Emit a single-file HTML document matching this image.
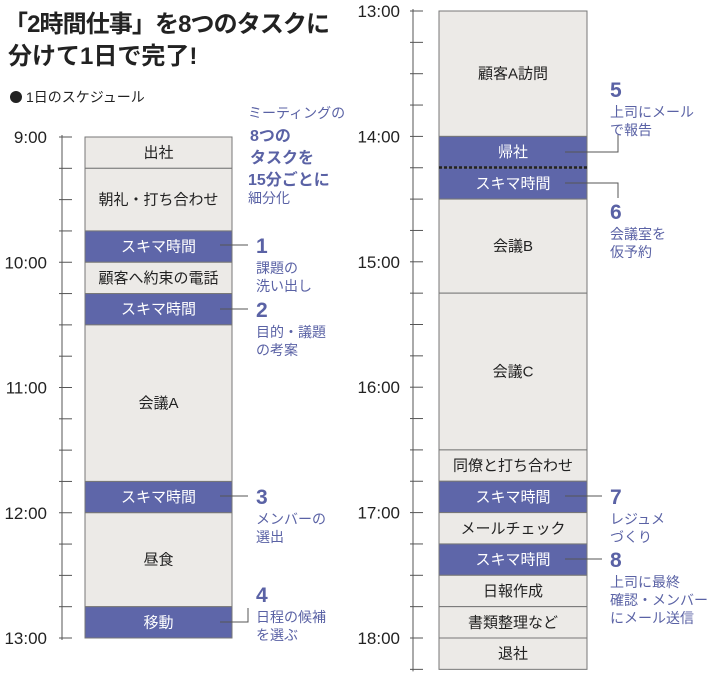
<!DOCTYPE html>
<html><head><meta charset="utf-8">
<style>
body{margin:0;background:#fff;width:710px;height:680px;overflow:hidden;font-family:"Liberation Sans","Noto Sans CJK JP",sans-serif;}
svg{position:absolute;left:0;top:0}
.ann{fill:#5a62a5}
</style></head><body>
<svg id="c" width="710" height="680">
<text x="4" y="32" font-size="24" font-weight="bold" fill="#222" textLength="326">「2時間仕事」を8つのタスクに</text>
<text x="8" y="64" font-size="24" font-weight="bold" fill="#222">分けて1日で完了!</text>
<circle cx="16" cy="97" r="6" fill="#222"/>
<text x="26" y="102" font-size="14" fill="#222">1日のスケジュール</text>
<g class="ann">
<text x="248" y="118" font-size="14">ミーティングの</text>
<text x="250" y="141" font-size="16" font-weight="bold">8つの</text>
<text x="250" y="163" font-size="16" font-weight="bold">タスクを</text>
<text x="248" y="185" font-size="16" font-weight="bold">15分ごとに</text>
<text x="248" y="203" font-size="14">細分化</text>
</g>
<line x1="439" y1="167.5" x2="587" y2="167.5" stroke="#222" stroke-width="2.5" stroke-dasharray="3,2" id="dotline"/>
</svg>
<script>
const leftLabels=["出社","朝礼・打ち合わせ","スキマ時間","顧客へ約束の電話","スキマ時間","会議A","スキマ時間","昼食","移動"];
const leftStart=[9,9.25,9.75,10,10.25,10.5,11.75,12,12.75];
const leftEnd=[9.25,9.75,10,10.25,10.5,11.75,12,12.75,13];
const leftGap=[0,0,1,0,1,0,1,0,1];
const rightLabels=["顧客A訪問","帰社","スキマ時間","会議B","会議C","同僚と打ち合わせ","スキマ時間","メールチェック","スキマ時間","日報作成","書類整理など","退社"];
const rightStart=[13,14,14.25,14.5,15.25,16.5,16.75,17,17.25,17.5,17.75,18];
const rightEnd=[14,14.25,14.5,15.25,16.5,16.75,17,17.25,17.5,17.75,18,18.25];
const rightGap=[0,1,1,0,0,0,1,0,1,0,0,0];
const leftTicks=["9:00","10:00","11:00","12:00","13:00"];
const rightTicks=["13:00","14:00","15:00","16:00","17:00","18:00"];
const NS="http://www.w3.org/2000/svg";
const svg=document.getElementById('c');
function mk(t,a){const e=document.createElementNS(NS,t);for(const k in a)e.setAttribute(k,a[k]);return e;}
function yL(h){return 137+(h-9)*125.25;}
function yR(h){return 11+(h-13)*125.4;}
function column(labels,st,en,gap,ticks,y,ax,bx,bw,t0,tEnd,lx){
  const axis=mk('line',{x1:ax,y1:y(t0)-2,x2:ax,y2:y(tEnd)+2,stroke:'#555','stroke-width':1});
  
  
  svg.appendChild(axis);
  for(let q=t0;q<=tEnd+0.001;q+=0.25){
    const tk=mk('line',{x1:ax-3,y1:y(q),x2:ax+10,y2:y(q),stroke:'#555','stroke-width':1});
    
    
    svg.appendChild(tk);
  }
  ticks.forEach(s=>{const h=parseInt(s);
    const t=mk('text',{x:lx,y:y(h)+6,'font-size':17,'text-anchor':'end',fill:'#222'});t.textContent=s;
    
    
    svg.appendChild(t);});
  labels.forEach((lb,i)=>{
    const y1=y(st[i]),y2=y(en[i]);
    const r=mk('rect',{x:bx,y:y1,width:bw,height:y2-y1,fill:gap[i]?'#5e66a9':'#eceae7',stroke:'#777','stroke-width':1});
    
    
    svg.appendChild(r);
    const t=mk('text',{x:bx+bw/2,y:(y1+y2)/2+5,'font-size':15,'text-anchor':'middle',fill:gap[i]?'#fff':'#222'});
    t.textContent=lb;
    
    
    svg.appendChild(t);
  });
}
column(leftLabels,leftStart,leftEnd,leftGap,leftTicks,yL,62,85,147,9,13,47);
column(rightLabels,rightStart,rightEnd,rightGap,rightTicks,yR,413,439,148,13,18.25,400);
svg.appendChild(document.getElementById('dotline'));
const notes=[
 {n:"1",y:245,lines:["課題の","洗い出し"],cx:220,cy:245,x:256},
 {n:"2",y:309,lines:["目的・議題","の考案"],cx:220,cy:309,x:256},
 {n:"3",y:496,lines:["メンバーの","選出"],cx:220,cy:496,x:256},
 {n:"4",y:594,lines:["日程の候補","を選ぶ"],cx:220,cy:622,x:256,elbow:true},
 {n:"7",y:496,lines:["レジュメ","づくり"],cx:565,cy:496,x:610},
 {n:"8",y:559,lines:["上司に最終","確認・メンバー","にメール送信"],cx:565,cy:559,x:610}
];
notes.forEach(o=>{
  let pth=o.elbow?`M${o.cx},${o.cy} H248 V608`:`M${o.cx},${o.cy} H${o.x-8}`;
  const p=mk('path',{d:pth,stroke:'#555',fill:'none','stroke-width':1});
  
  
  svg.appendChild(p);
  const t=mk('text',{x:o.x,y:o.y+8,'font-size':21,'font-weight':'bold',class:'ann'});t.textContent=o.n;
  
  
  svg.appendChild(t);
  o.lines.forEach((l,i)=>{const s=mk('text',{x:o.x,y:o.y+28+i*18,'font-size':14,class:'ann'});s.textContent=l;
    
    
    svg.appendChild(s);});
});
[["M565,152 H618 V135","5",97,["上司にメール","で報告"]],["M565,183 H618 V198","6",219,["会議室を","仮予約"]]].forEach(a=>{
  const p=mk('path',{d:a[0],stroke:'#555',fill:'none','stroke-width':1});
  
  
  svg.appendChild(p);
  const t=mk('text',{x:610,y:a[2],'font-size':21,'font-weight':'bold',class:'ann'});t.textContent=a[1];
  
  
  svg.appendChild(t);
  a[3].forEach((l,i)=>{const s=mk('text',{x:610,y:a[2]+20+i*18,'font-size':14,class:'ann'});s.textContent=l;
    
    
    svg.appendChild(s);});
});
</script>
</body></html>
